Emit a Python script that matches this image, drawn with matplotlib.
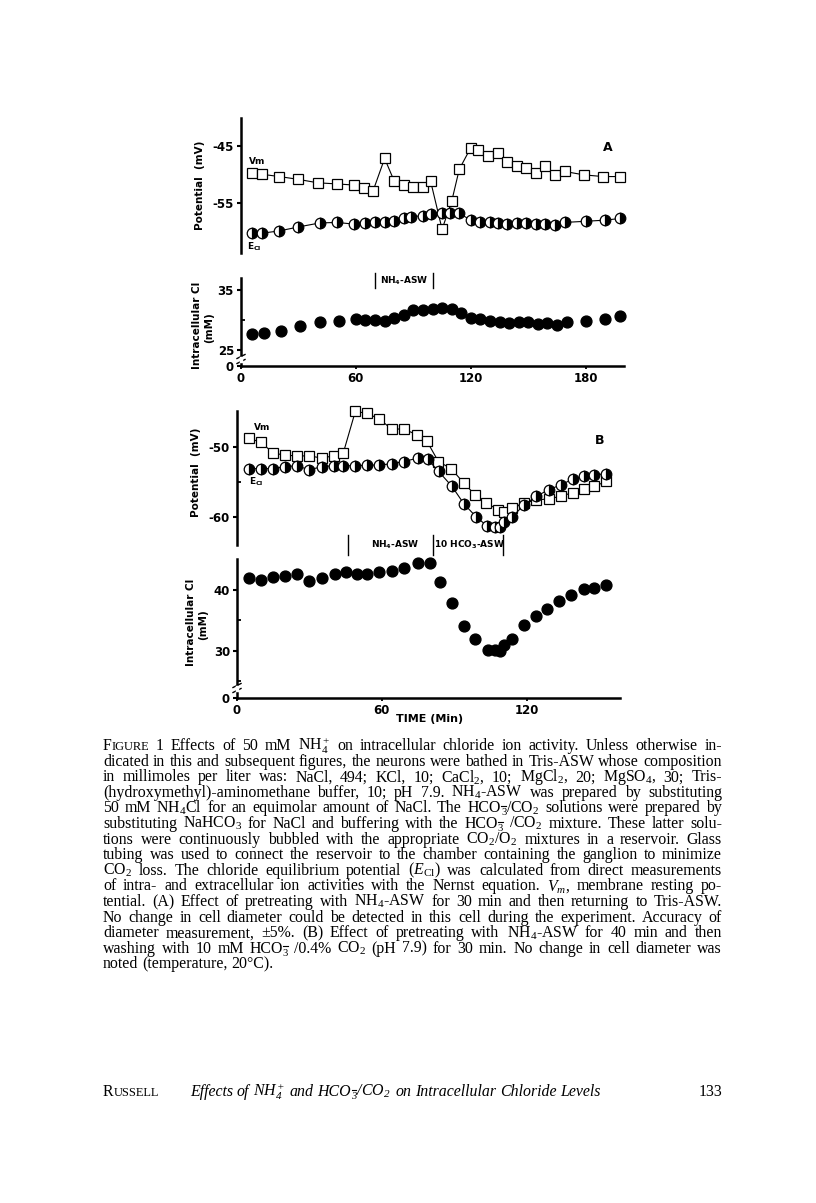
import numpy as np
import matplotlib.pyplot as plt
from matplotlib.lines import Line2D

plt.rcParams['mathtext.fontset'] = 'custom'
plt.rcParams['mathtext.rm'] = 'Liberation Serif'
plt.rcParams['mathtext.it'] = 'Liberation Serif:italic'
plt.rcParams['mathtext.bf'] = 'Liberation Serif:bold'

# -------------------------
# Data, panel A
# -------------------------
tA_vm = [6, 11, 20, 30, 40, 50, 59, 64, 69, 75, 80, 85, 90, 95, 99, 105,
         110, 114, 120, 124, 129, 134, 139, 144, 149, 154, 159, 164, 169,
         179, 189, 198]
vA_vm = [-49.8, -50.0, -50.4, -50.9, -51.5, -51.7, -51.9, -52.5, -52.9,
         -47.2, -51.2, -51.9, -52.3, -52.2, -51.2, -59.7, -54.8, -49.1,
         -45.3, -45.7, -46.8, -46.3, -47.8, -48.5, -48.9, -49.7, -48.5,
         -50.1, -49.5, -50.1, -50.4, -50.4]
tA_ecl = [6, 11, 20, 30, 41, 50, 59, 65, 70, 75, 80, 85, 89, 95, 99, 105,
          109, 114, 120, 125, 130, 134, 139, 144, 149, 154, 159, 164, 169,
          180, 190, 198]
vA_ecl = [-60.4, -60.4, -60.0, -59.3, -58.6, -58.5, -58.8, -58.6, -58.5,
          -58.5, -58.2, -57.8, -57.5, -57.3, -57.0, -56.8, -56.9, -56.9,
          -58.1, -58.5, -58.4, -58.6, -58.8, -58.6, -58.6, -58.8, -58.8,
          -58.9, -58.5, -58.3, -58.1, -57.8]
tA_cl = [6, 12, 21, 31, 41, 51, 60, 65, 70, 75, 80, 85, 90, 95, 100, 105,
         110, 115, 120, 125, 130, 135, 140, 145, 150, 155, 160, 165, 170,
         180, 190, 198]
cA_cl = [27.7, 27.8, 28.2, 29.0, 29.7, 29.9, 30.1, 30.0, 30.0, 29.9, 30.3,
         30.8, 31.7, 31.6, 31.9, 32.0, 31.9, 31.2, 30.4, 30.1, 29.9, 29.6,
         29.5, 29.7, 29.6, 29.3, 29.5, 29.2, 29.6, 29.8, 30.1, 30.7]
nh4_A = [70, 100]

# -------------------------
# Data, panel B
# -------------------------
tB_vm = [5, 10, 15, 20, 25, 30, 35, 40, 44, 49, 54, 59, 64, 69, 74.5, 78.6,
         83.4, 88.7, 93.8, 98.6, 103, 108, 110.5, 114, 119, 124, 129, 134,
         139, 143.5, 148, 153]
vB_vm = [-48.8, -49.4, -50.9, -51.2, -51.3, -51.3, -51.6, -51.3, -50.9,
         -45.0, -45.3, -46.1, -47.5, -47.5, -48.3, -49.2, -52.1, -53.1,
         -55.1, -56.8, -57.9, -58.9, -59.2, -58.6, -58.0, -57.5, -57.4,
         -57.0, -56.5, -56.0, -55.6, -54.9]
tB_ecl = [5, 10, 15, 20, 25, 30, 35, 40, 44, 49, 54, 59, 64, 69, 75, 79,
          83.5, 89, 94, 99, 103.5, 107, 109, 110.5, 114, 119, 124, 129, 134,
          139, 143.5, 148, 153]
vB_ecl = [-53.1, -53.1, -53.1, -52.8, -52.7, -53.3, -52.8, -52.7, -52.7,
          -52.7, -52.6, -52.6, -52.4, -52.1, -51.6, -51.8, -53.5, -55.6,
          -58.1, -59.9, -61.2, -61.3, -61.3, -60.6, -59.9, -58.2, -57.0,
          -56.1, -55.4, -54.6, -54.1, -54.0, -53.8]
tB_cl = [5, 10, 15, 20, 25, 30, 35, 40.5, 45, 49.5, 54, 59, 64, 69, 75, 80,
         84, 89, 94, 98.5, 104, 107, 109, 110.5, 114, 119, 124, 128.5, 133.5,
         138.5, 143.5, 148, 153]
cB_cl = [41.9, 41.6, 42.1, 42.3, 42.6, 41.5, 41.9, 42.6, 42.9, 42.7, 42.7,
         42.9, 43.2, 43.6, 44.4, 44.4, 41.3, 37.9, 34.1, 32.0, 30.1, 30.1,
         30.0, 30.9, 32.0, 34.2, 35.7, 36.9, 38.2, 39.2, 40.2, 40.3, 40.8]
bars_B = [46, 81, 110]

xticksA = [0, 60, 120, 180]
xticksB = [0, 60, 120]

# -------------------------
# Figure
# -------------------------
W, H = 816, 1203
fig = plt.figure(figsize=(W / 100, H / 100), dpi=100)


def px_axes(left, top, right, bottom):
    return fig.add_axes([left / W, 1 - bottom / H, (right - left) / W,
                         (bottom - top) / H])


def style(ax, bottom=False):
    ax.patch.set_visible(False)
    for s in ['top', 'right']:
        ax.spines[s].set_visible(False)
    ax.spines['left'].set_linewidth(1.8)
    ax.spines['bottom'].set_linewidth(1.8)
    ax.spines['bottom'].set_visible(bottom)
    ax.tick_params(axis='y', direction='out', length=3, width=1.5,
                   labelsize=8.5, pad=2)
    ax.tick_params(axis='y', which='minor', direction='in', length=3,
                   width=1.3)
    ax.tick_params(axis='x', direction='out', length=2, width=1.3,
                   labelsize=8.5, pad=2)
    if not bottom:
        ax.set_xticks([])
    for lb in ax.get_yticklabels() + ax.get_xticklabels():
        lb.set_fontweight('bold')


def series(ax, t, v, kind):
    if kind == 'vm':
        ax.plot(t, v, '-', color='k', lw=0.8, marker='s', ms=7.5,
                mfc='white', mec='k', mew=0.9, clip_on=False, zorder=3)
    elif kind == 'ecl':
        ax.plot(t, v, '-', color='k', lw=0.8, marker='o', ms=7.6,
                fillstyle='right', mfc='k', markerfacecoloralt='white',
                mec='k', mew=0.9, clip_on=False, zorder=4)
    else:
        ax.plot(t, v, 'o', color='k', ms=7.8, clip_on=False, zorder=3)


def brk(x, y):
    for dy in (-2.5, 2.5):
        fig.add_artist(Line2D([(x - 4) / W, (x + 4) / W],
                              [1 - (y + dy + 2) / H, 1 - (y + dy - 2) / H],
                              color='k', lw=1.0))
    fig.add_artist(Line2D([x / W, x / W], [1 - (y + 1.5) / H, 1 - (y - 1.5) / H],
                          color='white', lw=2.5))


# ---- Panel A, potential
axA1 = px_axes(241, 118, 624, 253)
series(axA1, tA_vm, vA_vm, 'vm')
series(axA1, tA_ecl, vA_ecl, 'ecl')
axA1.set_xlim(0, 200)
axA1.set_ylim(-63.9, -40.06)
axA1.set_yticks([-45, -55])
axA1.set_yticklabels(['-45', '-55'])
style(axA1)
axA1.text(4, -48.2, 'Vm', fontsize=6.5, fontweight='bold')
axA1.text(3, -63.2, r'E$\mathregular{_{Cl}}$', fontsize=6.5, fontweight='bold')
axA1.text(189, -45.3, 'A', fontsize=9, fontweight='bold', va='center')

# ---- Panel A, chloride
axA2 = px_axes(241, 278, 624, 366)
series(axA2, tA_cl, cA_cl, 'cl')
axA2.set_xlim(0, 200)
axA2.set_ylim(22.33, 37)
axA2.set_yticks([22.33, 25, 35])
axA2.set_yticklabels(['0', '25', '35'])
axA2.set_yticks([30], minor=True)
axA2.set_xticks(xticksA)
axA2.set_xticklabels([str(v) for v in xticksA])
style(axA2, bottom=True)
for xb in nh4_A:
    axA2.plot([xb, xb], [35.33, 37.83], color='k', lw=1.0, clip_on=False)
axA2.text(sum(nh4_A) / 2, 36.6, r'NH$\mathregular{_4}$-ASW', fontsize=6.5,
          fontweight='bold', ha='center', va='center')
brk(241, 359)

# ---- Panel B, potential
axB1 = px_axes(237, 411, 620, 545)
series(axB1, tB_vm, vB_vm, 'vm')
series(axB1, tB_ecl, vB_ecl, 'ecl')
axB1.set_xlim(0, 158.6)
axB1.set_ylim(-63.9, -44.95)
axB1.set_yticks([-50, -60])
axB1.set_yticklabels(['-50', '-60'])
axB1.set_yticks([-55], minor=True)
style(axB1)
axB1.text(7, -47.6, 'Vm', fontsize=6.5, fontweight='bold')
axB1.text(5, -55.3, r'E$\mathregular{_{Cl}}$', fontsize=6.5, fontweight='bold')
axB1.text(148, -49.1, 'B', fontsize=9, fontweight='bold', va='center')

# ---- Panel B, chloride
axB2 = px_axes(237, 559, 620, 698)
series(axB2, tB_cl, cB_cl, 'cl')
axB2.set_xlim(0, 158.6)
axB2.set_ylim(22.2, 45.1)
axB2.set_yticks([22.2, 30, 40])
axB2.set_yticklabels(['0', '30', '40'])
axB2.set_yticks([25, 35], minor=True)
axB2.set_xticks(xticksB)
axB2.set_xticklabels([str(v) for v in xticksB])
style(axB2, bottom=True)
for xb in bars_B:
    axB2.plot([xb, xb], [45.77, 49.06], color='k', lw=1.0, clip_on=False)
axB2.text((bars_B[0] + bars_B[1]) / 2 + 2, 47.4, r'NH$\mathregular{_4}$-ASW',
          fontsize=6.5, fontweight='bold', ha='center', va='center')
axB2.text(bars_B[1] + 0.5, 47.4, r'10 HCO$\mathregular{_3}$-ASW',
          fontsize=6.5, fontweight='bold', ha='left', va='center')
brk(237, 688)
fig.text(430 / W, 1 - 719 / H, 'TIME (Min)', fontsize=8, fontweight='bold',
         ha='center', va='center')

# ---- y labels
ylab = dict(fontsize=7.5, fontweight='bold', rotation=90, ha='center',
            va='center')
fig.text(200 / W, 1 - 185 / H, 'Potential  (mV)', **ylab)
fig.text(197 / W, 1 - 325 / H, 'Intracellular Cl', **ylab)
fig.text(209 / W, 1 - 328 / H, '(mM)', **ylab)
fig.text(196 / W, 1 - 472 / H, 'Potential  (mV)', **ylab)
fig.text(191 / W, 1 - 622 / H, 'Intracellular Cl', **ylab)
fig.text(203 / W, 1 - 625 / H, '(mM)', **ylab)

# -------------------------
# Caption, justified
# (§ marks the subscript 3 with superscript minus of HCO3-)
# -------------------------
caption = [
    r"FIGURE 1  Effects of 50 mM NH$\mathregular{_4^+}$ on intracellular chloride ion activity.  Unless otherwise in-",
    r"dicated in this and subsequent figures, the neurons were bathed in Tris-ASW whose composition",
    r"in millimoles per liter was: NaCl, 494; KCl, 10; CaCl$\mathregular{_2}$, 10; MgCl$\mathregular{_2}$, 20; MgSO$\mathregular{_4}$, 30; Tris-",
    r"(hydroxymethyl)-aminomethane buffer, 10; pH 7.9. NH$\mathregular{_4}$-ASW was prepared by substituting",
    r"50 mM NH$\mathregular{_4}$Cl for an equimolar amount of NaCl.  The HCO§/CO$\mathregular{_2}$ solutions were prepared by",
    r"substituting NaHCO$\mathregular{_3}$ for NaCl and buffering with the HCO§ /CO$\mathregular{_2}$ mixture.  These latter solu-",
    r"tions were continuously bubbled with the appropriate CO$\mathregular{_2}$/O$\mathregular{_2}$ mixtures in a reservoir.  Glass",
    r"tubing was used to connect the reservoir to the chamber containing the ganglion to minimize",
    r"CO$\mathregular{_2}$ loss.  The chloride equilibrium potential ($E\mathregular{_{Cl}}$) was calculated from direct measurements",
    r"of intra- and extracellular ion activities with the Nernst equation.  $V_m$, membrane resting po-",
    r"tential. (A) Effect of pretreating with NH$\mathregular{_4}$-ASW for 30 min and then returning to Tris-ASW.",
    r"No change in cell diameter could be detected in this cell during the experiment.  Accuracy of",
    r"diameter measurement, ±5%.  (B) Effect of pretreating with NH$\mathregular{_4}$-ASW for 40 min and then",
    r"washing with 10 mM HCO§ /0.4% CO$\mathregular{_2}$ (pH 7.9) for 30 min.  No change in cell diameter was",
    r"noted (temperature, 20°C).",
]
footer = r"Effects of NH$\mathregular{_4^+}$ and HCO§/CO$\mathregular{_2}$ on Intracellular Chloride Levels"

renderer = fig.canvas.get_renderer()

# font size chosen so a plain caption line fills the text width naturally
probe = fig.text(0, 0, caption[1], fontsize=10, family='Liberation Serif')
cap_size = 10 * 612 / probe.get_window_extent(renderer).width
probe.remove()


def word_parts(w):
    # pieces of a word: (text, scale, dy_px); text None = superscript minus
    if w in ('FIGURE', 'RUSSELL'):
        return [(w[0], 1.0, 0), (w[1:], 0.78, 0)]
    if '§' in w:
        a, b = w.split('§')
        out = [(a, 1.0, 0)] if a else []
        out.append(('3', 0.66, 3.0))
        out.append((None, 0.66, -6.5))
        if b:
            out.append((b, 1.0, 0))
        return out
    return [(w, 1.0, 0)]


def place_line(words, x0, x1, y, size, fstyle='normal', justify=True):
    objs, widths = [], []
    for w in words:
        parts, tw, last = [], 0, 0
        for s, k, dy in word_parts(w):
            if s is None:
                # minus drawn as a short dash stacked over the subscript
                dash = Line2D([0, 0], [0, 0], color='k', lw=0.8)
                fig.add_artist(dash)
                parts.append((dash, tw - last, (y + dy, last)))
                continue
            t = fig.text(0, 1 - (y + dy) / H, s, fontsize=size * k,
                         family='Liberation Serif', style=fstyle,
                         va='baseline')
            last = t.get_window_extent(renderer).width
            parts.append((t, tw, None))
            tw += last
        objs.append(parts)
        widths.append(tw)
    if justify and len(words) > 1:
        gap = (x1 - x0 - sum(widths)) / (len(words) - 1)
    else:
        gap = size * 0.25 * 100 / 72
    x = x0
    for parts, wd in zip(objs, widths):
        for a, off, extra in parts:
            if extra is None:
                a.set_x((x + off) / W)
            else:
                yy, wlen = extra
                a.set_data([(x + off + 0.5) / W, (x + off + wlen) / W],
                           [1 - yy / H, 1 - yy / H])
        x += wd + gap
    return x


for i, line in enumerate(caption):
    place_line(line.split(), 103, 722, 750 + 15.6 * i, cap_size,
               justify=(i < len(caption) - 1))

# footer
place_line(['RUSSELL'], 103, 722, 1096, cap_size, justify=False)
place_line(footer.split(), 190, 722, 1096, cap_size, fstyle='italic',
           justify=False)
fig.text(722 / W, 1 - 1096 / H, '133', fontsize=cap_size,
         family='Liberation Serif', ha='right', va='baseline')

fig.savefig('out.png', dpi=100)
